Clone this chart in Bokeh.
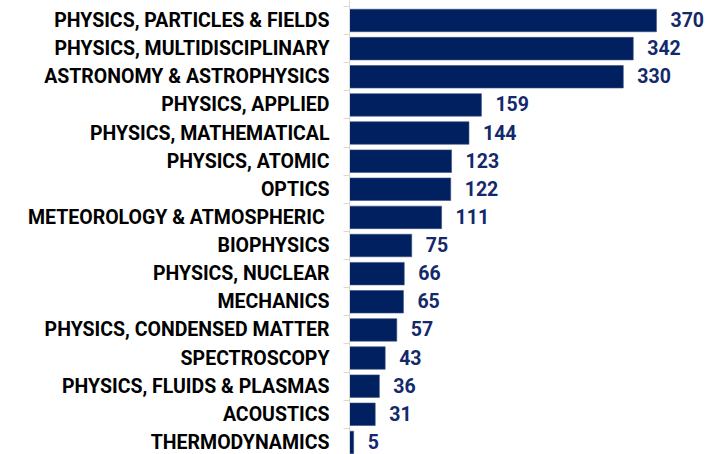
from bokeh.plotting import figure
from bokeh.models import ColumnDataSource, Range1d, FixedTicker
from bokeh.core.properties import value
from bokeh.embed import file_html
from bokeh.resources import INLINE

categories = [
    "PHYSICS, PARTICLES & FIELDS",
    "PHYSICS, MULTIDISCIPLINARY",
    "ASTRONOMY & ASTROPHYSICS",
    "PHYSICS, APPLIED",
    "PHYSICS, MATHEMATICAL",
    "PHYSICS, ATOMIC",
    "OPTICS",
    "METEOROLOGY & ATMOSPHERIC ",
    "BIOPHYSICS",
    "PHYSICS, NUCLEAR",
    "MECHANICS",
    "PHYSICS, CONDENSED MATTER",
    "SPECTROSCOPY",
    "PHYSICS, FLUIDS & PLASMAS",
    "ACOUSTICS",
    "THERMODYNAMICS",
]
counts = [370, 342, 330, 159, 144, 123, 122, 111, 75, 66, 65, 57, 43, 36, 31, 5]

rows = list(range(len(categories)))
source = ColumnDataSource(dict(
    y=rows,
    count=counts,
    label=[str(c) for c in counts],
))

FONT = "Roboto"
SIZE = "19.5px"

p = figure(
    width=708, height=454,
    output_backend="svg", toolbar_location=None,
    x_range=Range1d(0, 432.7),
    y_range=Range1d(15.43, -0.711),
    min_border_left=349, min_border_right=0,
    min_border_top=0, min_border_bottom=0,
)
p.outline_line_color = None
p.xgrid.visible = False
p.ygrid.visible = False
p.xaxis.visible = False
p.background_fill_color = "white"
p.border_fill_color = "white"

p.hbar(y="y", right="count", left=0, height=0.8, source=source,
       fill_color="#002060", line_color="#3a4f85", line_width=0.6)

p.text(x="count", y="y", text="label", source=source,
       x_offset=14, y_offset=-1, text_baseline="middle", text_align="left",
       text_font=value(FONT), text_font_style="bold",
       text_font_size=SIZE, text_color="#13296b")

yax = p.yaxis[0]
yax.ticker = FixedTicker(ticks=rows, minor_ticks=[r - 0.5 for r in rows] + [len(rows) - 0.5])
yax.major_label_overrides = {i: c for i, c in enumerate(categories)}
yax.major_tick_line_color = None
yax.major_tick_in = 0
yax.major_tick_out = 0
yax.minor_tick_line_color = "#d9d9d9"
yax.minor_tick_in = 0
yax.minor_tick_out = 6
yax.axis_line_color = "#d9d9d9"
yax.axis_line_width = 1
yax.major_label_standoff = 14
yax.major_label_text_font = FONT
yax.major_label_text_font_style = "bold"
yax.major_label_text_font_size = SIZE
yax.major_label_text_color = "#000000"

open("out.html", "w").write(file_html(p, INLINE))
